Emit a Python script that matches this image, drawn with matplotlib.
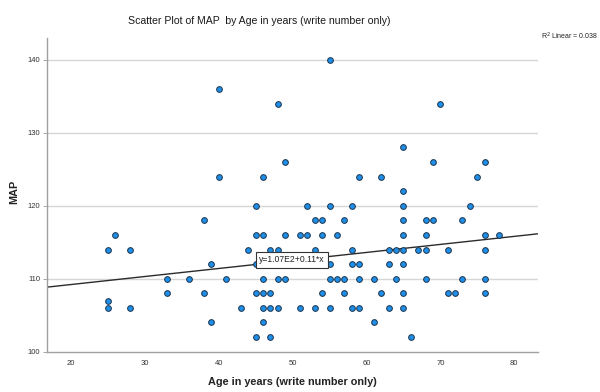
import matplotlib
matplotlib.use("Agg")
import matplotlib.pyplot as plt
import numpy as np

plt.rcParams['font.family'] = ['Liberation Sans', 'DejaVu Sans']

# Data: MAP values grouped by row, with the ages in each row
rows = {
    140: [55],
    136: [40],
    134: [48, 70],
    128: [65],
    126: [49, 69, 76],
    124: [40, 46, 59, 62, 75],
    122: [65],
    120: [45, 52, 55, 58, 65, 74],
    118: [38, 53, 54, 57, 65, 68, 69, 73],
    116: [26, 45, 46, 49, 51, 52, 54, 56, 65, 68, 76, 78],
    114: [25, 28, 44, 47, 48, 53, 58, 63, 64, 65, 67, 68, 71, 76],
    112: [39, 45, 55, 58, 59, 63, 65],
    110: [33, 36, 41, 46, 48, 49, 55, 56, 57, 59, 61, 64, 68, 73, 76],
    108: [33, 38, 45, 46, 47, 54, 57, 62, 65, 71, 72, 76],
    107: [25],
    106: [25, 28, 43, 46, 47, 48, 51, 53, 55, 58, 59, 63, 65],
    104: [39, 46, 61],
    102: [45, 47, 66],
}
age = [a for m, ages in rows.items() for a in ages]
map_vals = [m for m, ages in rows.items() for a in ages]

intercept = 107.0
slope = 0.11
r2 = 0.038
x_ticks = [20, 30, 40, 50, 60, 70, 80]
y_ticks = [100, 110, 120, 130, 140]

fig = plt.figure(figsize=(6, 3.92), dpi=100)
ax = fig.add_axes([0.0778, 0.103, 0.8185, 0.8])
ax.set_xlim(16.7, 83.2)
ax.set_ylim(100, 143)

for y in y_ticks[1:]:
    ax.axhline(y, color='#d6d6d6', lw=1.0, zorder=1)

xx = np.array(ax.get_xlim())
ax.plot(xx, intercept + slope * xx, color='#2b2b2b', lw=1.0, zorder=2)

ax.scatter(age, map_vals, s=17, facecolor='#1f8ee6', edgecolor='#1a3550',
           linewidth=0.7, zorder=3)

ax.text(49.9, 112.6, 'y=1.07E2+0.11*x', fontsize=6.2, ha='center', va='center',
        color='#222222', zorder=4,
        bbox=dict(boxstyle='square,pad=0.4', fc='white', ec='#333333', lw=0.8))

ax.set_xticks(x_ticks)
ax.set_yticks(y_ticks)
ax.tick_params(axis='x', length=0, labelsize=5.5, colors='#333333', pad=6)
ax.tick_params(axis='y', length=3, width=0.6, labelsize=5.5, colors='#999999',
               labelcolor='#333333', pad=1.5)

for side in ['top', 'right']:
    ax.spines[side].set_visible(False)
for side in ['left', 'bottom']:
    ax.spines[side].set_color('#a0a0a0')
    ax.spines[side].set_linewidth(1.0)

fig.text(259/600, 1 - 21/392, 'Scatter Plot of MAP  by Age in years (write number only)',
         ha='center', va='center', fontsize=7.6, fontweight='medium', color='#1a1a1a')
fig.text(598/600, 1 - 36/392, 'R$^2$ Linear = 0.038', ha='right', va='center',
         fontsize=5, color='#222222')
fig.text(292/600, 1 - 382/392, 'Age in years (write number only)', ha='center',
         va='center', fontsize=7.8, fontweight='bold', color='#222222')
fig.text(14/600, 1 - 192/392, 'MAP', ha='center', va='center', rotation=90,
         fontsize=7.8, fontweight='bold', color='#222222')

fig.savefig('out.png', dpi=100)
